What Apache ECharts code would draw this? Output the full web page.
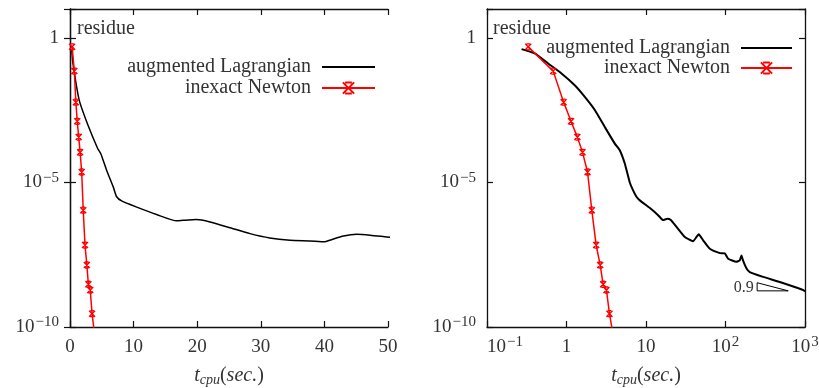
<!DOCTYPE html>
<html><head><meta charset="utf-8">
<script src="https://cdn.jsdelivr.net/npm/echarts@6/dist/echarts.min.js"></script>
<style>html,body{margin:0;padding:0;background:#fff}#c{width:819px;height:388px}</style>
</head><body><div id="c"></div>
<script>
// ---- data ----
const newtonT = [0.33, 0.68, 0.92, 1.14, 1.37, 1.59, 1.84, 2.08, 2.36, 2.65, 2.89, 3.18, 3.47, 3.99];
const newtonR = [0.49, 7.1e-2, 6.0e-3, 1.3e-3, 3.7e-4, 1.1e-4, 2.3e-5, 1.1e-6, 6.8e-8, 1.4e-8, 3.0e-9, 1.9e-9, 2.9e-10, 3.2e-11];

const alLeftT = [0.27, 0.47, 1.46, 2.88, 4.35, 4.83, 5.77, 6.81, 7.34, 8.12, 10.5, 13.6, 16.8, 17.8, 19.9, 22.0, 25.2, 28.3, 31.4, 34.6, 37.7, 40.1, 41.1, 43.0, 45.1, 47.2, 49.8, 50.5];
const alLeftR = [0.41, 0.13, 6.9e-3, 8.9e-4, 1.5e-4, 1.0e-4, 2.6e-5, 6.9e-6, 3.2e-6, 2.3e-6, 1.4e-6, 7.8e-7, 4.7e-7, 4.9e-7, 5.2e-7, 4.3e-7, 2.7e-7, 1.7e-7, 1.2e-7, 1.0e-7, 9.5e-8, 8.9e-8, 1.05e-7, 1.4e-7, 1.6e-7, 1.5e-7, 1.3e-7, 1.26e-7];

const alRightT = [0.272, 0.40, 0.587, 0.865, 1.27, 1.70, 2.27, 3.03, 4.05, 4.68, 5.41, 6.25, 7.03, 7.59, 8.36, 11.2, 14.2, 16.4, 18.5, 20.5, 24.2, 30.8, 39.1, 43.2, 46.1, 52.3, 63.5, 84.8, 98, 108, 137, 151, 159, 166, 184, 202, 297, 482, 946, 1000];
const alRightR = [0.41, 0.29, 0.13, 5.9e-2, 2.3e-2, 9.1e-3, 3.2e-3, 8.3e-4, 2.2e-4, 1.3e-4, 4.5e-5, 1.0e-5, 4.7e-6, 3.2e-6, 2.4e-6, 1.3e-6, 7.4e-7, 5.0e-7, 5.5e-7, 5.0e-7, 2.9e-7, 1.3e-7, 9.3e-8, 1.3e-7, 1.6e-7, 1.0e-7, 5.1e-8, 3.6e-8, 3.5e-8, 2.3e-8, 1.8e-8, 2.0e-8, 3.0e-8, 2.0e-8, 1.05e-8, 7.9e-9, 5.4e-9, 3.6e-9, 1.9e-9, 1.7e-9];

const slopeT = [250, 250, 615, 250];
const slopeR = [3.4e-9, 1.78e-9, 1.78e-9, 3.4e-9];
const slopeLabel = '0.9';

const yTickExps = [0, -5, -10];
const xTickExpsRight = [-1, 0, 1, 2, 3];
const seriesNames = ['augmented Lagrangian', 'inexact Newton'];

// ---- helpers ----
const FONT = 'Liberation Serif';
const TXT = '#333';
const zip = (a, b) => a.map((v, i) => [v, b[i]]);
function powLabel(e) {
  if (e === 0) return '{b|1}';
  if (e === 1) return '{b|10}';
  return '{b|10}{s|' + (e < 0 ? '\u2212' + (-e) : e) + '}';
}
const richPow = {
  b: { fontFamily: FONT, fontSize: 19, lineHeight: 24, color: TXT },
  s: { fontFamily: FONT, fontSize: 15, lineHeight: 15, verticalAlign: 'top', color: TXT, padding: [0, 0, 0, 1] }
};
const xName = '{t|t}{c|cpu}{p|(}{i|sec.}{p|)}';
const richName = {
  t: { fontFamily: FONT, fontSize: 20, fontStyle: 'italic', color: TXT },
  c: { fontFamily: FONT, fontSize: 14, fontStyle: 'italic', color: TXT, padding: [8, 0, 0, 0] },
  p: { fontFamily: FONT, fontSize: 20, color: TXT },
  i: { fontFamily: FONT, fontSize: 20, fontStyle: 'italic', color: TXT }
};
const axLine = { show: true, lineStyle: { color: '#111', width: 1.3 } };
const tick = { show: true, inside: true, length: 6, lineStyle: { color: '#111', width: 1.2 } };
const xMark = 'path://M2,0L8,0M2,10L8,10M0,0L10,10M10,0L0,10';

function yAxes(gi) {
  const base = { gridIndex: gi, type: 'log', min: 1e-10, max: 10, interval: 5, splitLine: { show: false }, axisLine: axLine, axisTick: tick, minorTick: { show: false } };
  return [
    Object.assign({}, base, {
      position: 'left',
      axisLabel: {
        margin: 11, color: TXT, fontFamily: FONT, fontSize: 19, rich: richPow,
        formatter: v => { const e = Math.round(Math.log10(v)); return yTickExps.includes(e) ? powLabel(e) : ''; }
      }
    }),
    Object.assign({}, base, { position: 'right', axisLabel: { show: false } })
  ];
}
const legendText = { fontFamily: FONT, fontSize: 20, lineHeight: 20, color: TXT, padding: [0, 6, 0, 0] };

const option = {
  animation: false,
  backgroundColor: '#fff',
  title: [
    { text: 'residue', left: 72, top: 14, textStyle: { fontFamily: FONT, fontSize: 20, fontWeight: 'normal', color: TXT } },
    { text: 'residue', left: 488, top: 14, textStyle: { fontFamily: FONT, fontSize: 20, fontWeight: 'normal', color: TXT } }
  ],
  grid: [
    { left: 70, top: 9, width: 318, height: 318, show: false, containLabel: false, outerBoundsMode: 'none' },
    { left: 487, top: 9, width: 318, height: 318, show: false, containLabel: false, outerBoundsMode: 'none' }
  ],
  legend: [
    { data: seriesNames, orient: 'vertical', align: 'right', right: 443, top: 57, padding: 0, itemWidth: 53, itemHeight: 14, itemGap: 1,
      textStyle: legendText, selectedMode: false },
    { data: seriesNames, orient: 'vertical', align: 'right', right: 26, top: 38, padding: 0, itemWidth: 51, itemHeight: 14, itemGap: 0,
      textStyle: legendText, selectedMode: false }
  ],
  xAxis: [
    { gridIndex: 0, type: 'value', min: 0, max: 50, interval: 10, position: 'bottom', splitLine: { show: false }, axisLine: axLine, axisTick: tick,
      axisLabel: { margin: 8, color: TXT, fontFamily: FONT, fontSize: 19, lineHeight: 24 },
      name: xName, nameLocation: 'middle', nameGap: 38, nameTextStyle: { rich: richName } },
    { gridIndex: 0, type: 'value', min: 0, max: 50, interval: 10, position: 'top', splitLine: { show: false }, axisLine: axLine, axisTick: tick, axisLabel: { show: false } },
    { gridIndex: 1, type: 'log', min: 0.1, max: 1000, interval: 1, position: 'bottom', splitLine: { show: false }, axisLine: axLine, axisTick: tick, minorTick: { show: false },
      axisLabel: { margin: 8, color: TXT, fontFamily: FONT, fontSize: 19, rich: richPow, alignMinLabel: 'left',
        formatter: v => { const e = Math.round(Math.log10(v)); return xTickExpsRight.includes(e) ? powLabel(e) : ''; } },
      name: xName, nameLocation: 'middle', nameGap: 38, nameTextStyle: { rich: richName } },
    { gridIndex: 1, type: 'log', min: 0.1, max: 1000, interval: 1, position: 'top', splitLine: { show: false }, axisLine: axLine, axisTick: tick, minorTick: { show: false }, axisLabel: { show: false } }
  ],
  yAxis: [].concat(yAxes(0), yAxes(1)),
  series: [
    { name: seriesNames[0], type: 'line', xAxisIndex: 0, yAxisIndex: 0, data: zip(alLeftT, alLeftR), symbol: 'none', smooth: 0.2,
      lineStyle: { color: '#000', width: 1.5 }, itemStyle: { color: 'rgba(0,0,0,0)', borderWidth: 0 }, z: 3 },
    { name: seriesNames[1], type: 'line', xAxisIndex: 0, yAxisIndex: 0, data: zip(newtonT, newtonR),
      symbol: xMark, symbolSize: 6, showSymbol: true,
      lineStyle: { color: '#f00', width: 1.5 }, itemStyle: { color: 'rgba(0,0,0,0)', borderColor: '#f00', borderWidth: 1.4 }, z: 4 },
    { name: seriesNames[0], type: 'line', xAxisIndex: 2, yAxisIndex: 2, data: zip(alRightT, alRightR), symbol: 'none', smooth: 0.15,
      lineStyle: { color: '#000', width: 2 }, itemStyle: { color: 'rgba(0,0,0,0)', borderWidth: 0 }, z: 3 },
    { name: seriesNames[1], type: 'line', xAxisIndex: 2, yAxisIndex: 2, data: zip(newtonT, newtonR),
      symbol: xMark, symbolSize: 6, showSymbol: true,
      lineStyle: { color: '#f00', width: 1.5 }, itemStyle: { color: 'rgba(0,0,0,0)', borderColor: '#f00', borderWidth: 1.4 }, z: 4 },
    { name: 'slope', type: 'line', xAxisIndex: 2, yAxisIndex: 2, silent: true, symbol: 'circle', symbolSize: 1, showSymbol: true,
      itemStyle: { color: 'rgba(0,0,0,0)' },
      data: zip(slopeT, slopeR).map((p, i) => i === 0 ? { value: p, label: { show: true, position: 'left', distance: 3, offset: [0, 5], formatter: slopeLabel, fontFamily: FONT, fontSize: 16, color: TXT } } : p),
      lineStyle: { color: '#000', width: 1 }, z: 2 }
  ]
};
const chart = echarts.init(document.getElementById('c'), null, { renderer: 'canvas' });
chart.setOption(option);
</script></body></html>
